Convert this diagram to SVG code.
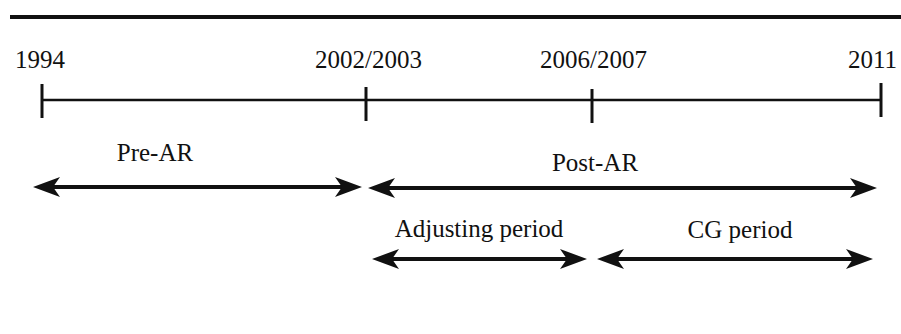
<svg xmlns="http://www.w3.org/2000/svg" width="901" height="334" viewBox="0 0 901 334">
<style>
text{font-family:"Liberation Serif","Times New Roman",serif;font-size:25px;fill:#111}
.ax{stroke:#111;stroke-width:2.5;fill:none}
.tk{stroke:#111;stroke-width:3;fill:none}
.ar{stroke:#111;stroke-width:4;fill:none}
.hd{fill:#111}
</style>
<defs>
<path id="hr" d="M0,0 L-27,-10 L-20,0 L-27,10 Z"/>
<path id="hl" d="M0,0 L27,-10 L20,0 L27,10 Z"/>
</defs>
<line x1="10" y1="17" x2="901" y2="17" stroke="#111" stroke-width="4"/>
<g id="timeline">
<line class="ax" x1="42" y1="100" x2="881" y2="100"/>
<line class="tk" x1="42" y1="84" x2="42" y2="118"/>
<line class="tk" x1="366" y1="87" x2="366" y2="121"/>
<line class="tk" x1="592" y1="89" x2="592" y2="123"/>
<line class="tk" x1="881" y1="83" x2="881" y2="117"/>
</g>
<g id="year-1994"><text x="15" y="68">1994</text></g>
<g id="year-2002"><text x="315" y="68">2002/2003</text></g>
<g id="year-2006"><text x="540" y="68">2006/2007</text></g>
<g id="year-2011"><text x="848" y="68">2011</text></g>
<g id="label-prear"><text x="155" y="161" text-anchor="middle">Pre-AR</text></g>
<g id="label-postar"><text x="595" y="171" text-anchor="middle">Post-AR</text></g>
<g id="label-adjusting"><text x="479" y="237" text-anchor="middle">Adjusting period</text></g>
<g id="label-cg"><text x="740" y="238" text-anchor="middle">CG period</text></g>
<g id="connectors">
<line class="ar" x1="52" y1="187" x2="342" y2="187"/>
<use href="#hl" class="hd" x="33" y="187"/>
<use href="#hr" class="hd" x="362" y="187"/>
<line class="ar" x1="387" y1="188" x2="857" y2="188"/>
<use href="#hl" class="hd" x="368" y="188"/>
<use href="#hr" class="hd" x="877" y="188"/>
<line class="ar" x1="391" y1="259" x2="567" y2="259"/>
<use href="#hl" class="hd" x="372" y="259"/>
<use href="#hr" class="hd" x="587" y="259"/>
<line class="ar" x1="616" y1="259" x2="853" y2="259"/>
<use href="#hl" class="hd" x="597" y="259"/>
<use href="#hr" class="hd" x="873" y="259"/>
</g>
</svg>
